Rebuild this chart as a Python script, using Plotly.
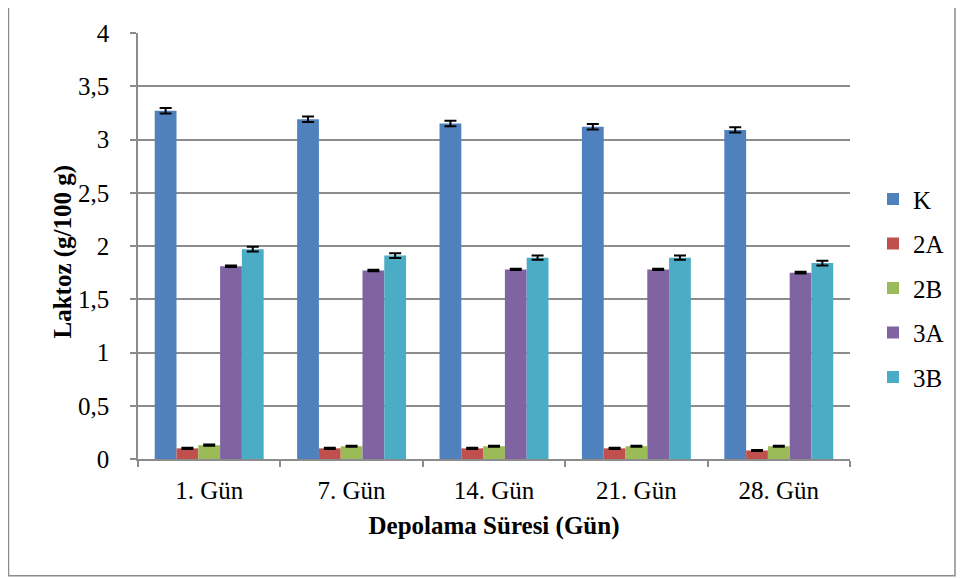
import plotly.graph_objects as go

categories = ["1. Gün", "7. Gün", "14. Gün", "21. Gün", "28. Gün"]
series_names = ["K", "2A", "2B", "3A", "3B"]
K = [3.27, 3.19, 3.15, 3.12, 3.09]
A2 = [0.10, 0.10, 0.10, 0.10, 0.08]
B2 = [0.13, 0.12, 0.12, 0.12, 0.12]
A3 = [1.81, 1.77, 1.78, 1.78, 1.75]
B3 = [1.97, 1.91, 1.89, 1.89, 1.84]
K_err = [0.025, 0.025, 0.025, 0.025, 0.025]
A2_err = [0.005, 0.005, 0.005, 0.005, 0.005]
B2_err = [0.006, 0.005, 0.005, 0.005, 0.005]
A3_err = [0.008, 0.008, 0.006, 0.006, 0.008]
B3_err = [0.022, 0.022, 0.02, 0.02, 0.022]
colors = ["#4F81BD", "#C0504D", "#9BBB59", "#8064A2", "#4BACC6"]

values = [K, A2, B2, A3, B3]
errors = [K_err, A2_err, B2_err, A3_err, B3_err]

# page has an 8px body margin; figure is sized so the plot lands where the reference has it
OFF = 8
W, H = 965 - OFF, 578 - OFF
ml, mr, mt, mb = 138 - OFF, 115, 30 - OFF, 119

fig = go.Figure()
for name, v, e, c in zip(series_names, values, errors, colors):
    fig.add_trace(go.Bar(
        x=categories, y=v, name=name, legendgroup=name,
        marker=dict(color=c, line=dict(width=0)),
        error_y=dict(type="data", array=e, visible=True, color="black",
                     thickness=2, width=6),
    ))

pw = W - ml - mr
ph = H - mt - mb
def px_x(sx):
    return (sx - OFF - ml) / pw
def px_y(sy):
    return (H - mb - (sy - OFF)) / ph

fig.add_shape(type="rect", xref="paper", yref="paper",
              x0=px_x(8.5), x1=px_x(955), y0=px_y(576.5), y1=px_y(2.5),
              line=dict(color="#8c8c8c", width=1.5), fillcolor="rgba(0,0,0,0)",
              layer="below")

font_family = "Liberation Serif, Times New Roman, serif"
FS = 25
fig.add_annotation(xref="paper", yref="paper", x=px_x(63), y=px_y(250),
                   xanchor="center", yanchor="middle", textangle=-90,
                   showarrow=False, text="<b>Laktoz (g/100 g)</b>",
                   font=dict(family=font_family, size=FS, color="black"))

fig.update_layout(
    width=W, height=H,
    margin=dict(l=ml, r=mr, t=mt, b=mb),
    paper_bgcolor="white", plot_bgcolor="white",
    separators=",.",
    barmode="group", bargap=0.235, bargroupgap=0,
    font=dict(family=font_family, size=FS, color="black"),
    showlegend=True,
    legend=dict(x=px_x(873), y=px_y(287), xanchor="left", yanchor="middle",
                traceorder="grouped", tracegroupgap=9,
                font=dict(family=font_family, size=FS, color="black"),
                itemwidth=30, bgcolor="rgba(0,0,0,0)"),
    xaxis=dict(
        showline=True, linecolor="#8c8c8c", linewidth=1.5,
        ticks="outside", ticklen=6, tickcolor="#8c8c8c", tickwidth=1.5,
        tickson="boundaries", ticklabelstandoff=8,
        tickfont=dict(family=font_family, size=FS, color="black"),
        title=dict(text="<b>Depolama Süresi (Gün)</b>", standoff=14,
                   font=dict(family=font_family, size=FS, color="black")),
    ),
    yaxis=dict(
        range=[0, 4], dtick=0.5, tick0=0,
        showline=True, linecolor="#8c8c8c", linewidth=1.5,
        showgrid=True, gridcolor="#8c8c8c", gridwidth=1.5,
        zeroline=False,
        ticks="outside", ticklen=6, tickcolor="#8c8c8c", tickwidth=1.5,
        ticklabelstandoff=16,
        tickfont=dict(family=font_family, size=FS, color="black"),
    ),
)

fig.write_html("out.html")
